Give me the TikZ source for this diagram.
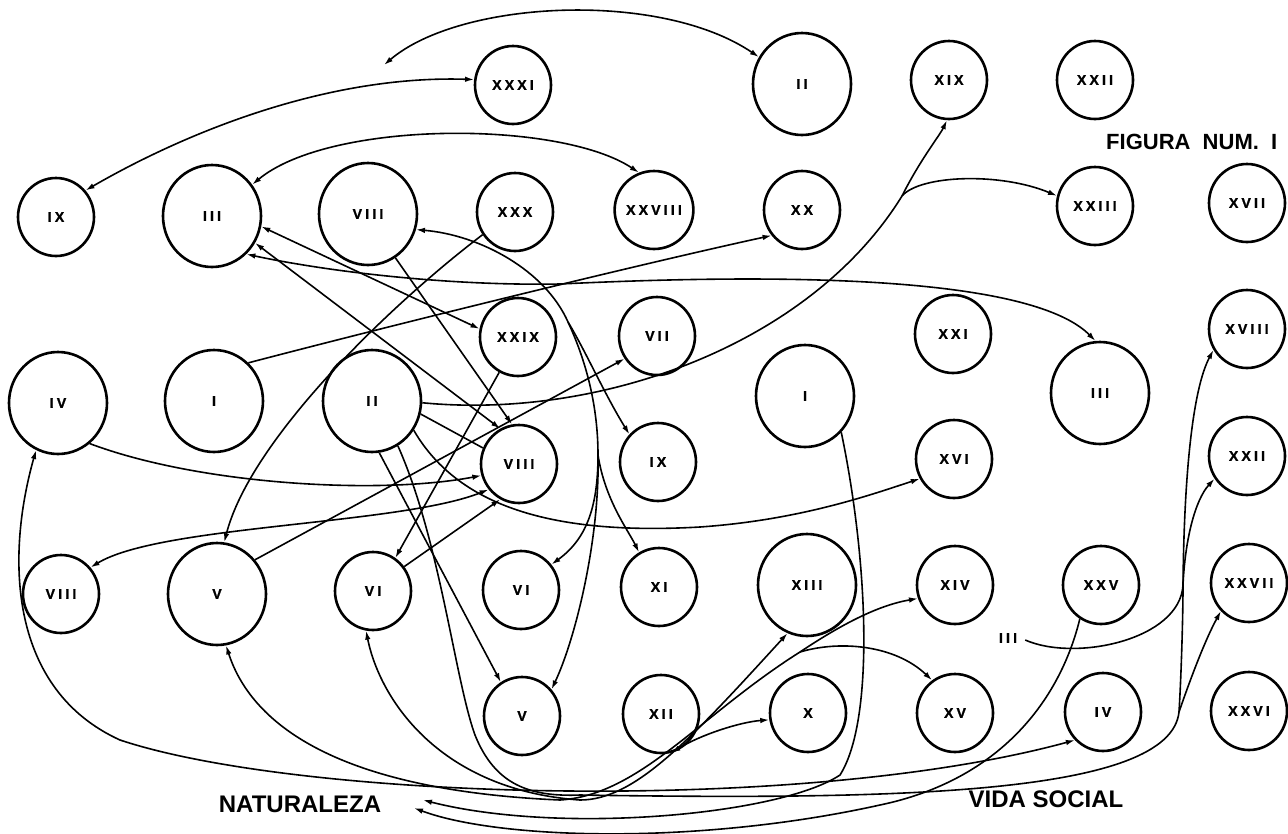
\documentclass[tikz,border=0pt]{standalone}
\usepackage{fontspec}
\setmainfont{Liberation Sans}
\newfontfamily\lblf[BoldFeatures={FakeBold=1.3}]{Liberation Sans}
\usetikzlibrary{arrows.meta,shapes.geometric}
\def\rn#1{\rnA#1\relax}
\def\rnA#1{\ifx#1\relax\else#1\expandafter\rnB\fi}
\def\rnB#1{\ifx#1\relax\else\kern3.2pt#1\expandafter\rnB\fi}
\begin{document}
\begin{tikzpicture}[x=1pt,y=-1pt,
 lbl/.style={font=\lblf\bfseries\fontsize{14}{14}\selectfont},
 sm/.style={draw,ellipse,line width=2.6pt,minimum width=76pt,minimum height=78pt,inner sep=0pt,lbl},
 bg/.style={draw,ellipse,line width=2.6pt,minimum width=98pt,minimum height=102pt,inner sep=0pt,lbl},
 cn/.style={line width=1.6pt},
 big/.style={font=\fontsize{24}{24}\selectfont\bfseries,inner sep=0pt},
 >={Latex[length=9pt,width=5.5pt]}]
\useasboundingbox (0,0) rectangle (1288,833);
% nodes
\node[sm] (XXXI) at (513,85) {\rn{XXXI}};
\node[bg] (IIa) at (802,84) {\rn{II}};
\node[sm] (XIXa) at (949,80) {\rn{XIX}};
\node[sm] (XXIIa) at (1095,80) {\rn{XXII}};
\node[sm] (IXa) at (56,217) {\rn{IX}};
\node[bg] (IIIa) at (212,216) {\rn{III}};
\node[bg] (VIIIa) at (368,214) {\rn{VIII}};
\node[sm] (XXX) at (515,212) {\rn{XXX}};
\node[sm] (XXVIII) at (654,210) {\rn{XXVIII}};
\node[sm] (XX) at (802,210) {\rn{XX}};
\node[sm] (XXIII) at (1095,206) {\rn{XXIII}};
\node[sm] (XVII) at (1247,203) {\rn{XVII}};
\node[sm] (XXIX) at (518,337) {\rn{XXIX}};
\node[sm] (VII) at (657,336) {\rn{VII}};
\node[sm] (XXI) at (953,334) {\rn{XXI}};
\node[sm] (XVIII) at (1247,329) {\rn{XVIII}};
\node[bg] (IVa) at (58,403) {\rn{IV}};
\node[bg] (Ia) at (214,401) {\rn{I}};
\node[bg] (IIb) at (372,401) {\rn{II}};
\node[bg] (Ib) at (805,396) {\rn{I}};
\node[bg] (IIIb) at (1100,393) {\rn{III}};
\node[sm] (VIIIb) at (519,464) {\rn{VIII}};
\node[sm] (IXb) at (658,462) {\rn{IX}};
\node[sm] (XVI) at (954,459) {\rn{XVI}};
\node[sm] (XXIIb) at (1247,456) {\rn{XXII}};
\node[sm] (VIIIc) at (61,594) {\rn{VIII}};
\node[bg] (Va) at (217,594) {\rn{V}};
\node[sm] (VIa) at (373,591) {\rn{VI}};
\node[sm] (VIb) at (521,590) {\rn{VI}};
\node[sm] (XI) at (659,587) {\rn{XI}};
\node[bg] (XIII) at (807,585) {\rn{XIII}};
\node[sm] (XIV) at (955,585) {\rn{XIV}};
\node[sm] (XXV) at (1101,585) {\rn{XXV}};
\node[sm] (XXVII) at (1249,583) {\rn{XXVII}};
\node[sm] (Vb) at (522,716) {\rn{V}};
\node[sm] (XII) at (661,714) {\rn{XII}};
\node[sm] (X) at (808,713) {\rn{X}};
\node[sm] (XV) at (955,713) {\rn{XV}};
\node[sm] (IVb) at (1103,712) {\rn{IV}};
\node[sm] (XXVI) at (1249,711) {\rn{XXVI}};
% texts
\node[big] (nat) at (300,804) {NATURALEZA};
\node[big] (vs) at (1046,799) {VIDA SOCIAL};
\node[font=\fontsize{22}{22}\selectfont\bfseries,anchor=west,inner sep=0pt] (fig) at (1106,142) {FIGURA\ \ NUM.\ \ I};
\node[lbl,inner sep=0pt] (t3) at (1008,638) {\rn{III}};
% coordinates
\coordinate (F1) at (384,65);
\coordinate (J1) at (568,322);
\coordinate (J2) at (598,455);
\coordinate (J3) at (902,196);
\coordinate (T0) at (1179,712);
\coordinate (T1) at (1183,585);
\coordinate (N1) at (423,800);
\coordinate (N2) at (414,808);
\coordinate (B1) at (800,652);
\coordinate (C1) at (560,800);
\coordinate (C2) at (580,800);
\coordinate (C3) at (580,795);
\coordinate (C4) at (475,735);
% top arcs
\draw[cn,<->] (F1) .. controls (460,0) and (660,-10) .. (IIa.148);
\draw[cn,<->] (XXXI.172) .. controls (330,75) and (190,130) .. (IXa.42);
\draw[cn,<->] (IIIa.38) .. controls (330,120) and (560,120) .. (XXVIII.112);
% III lines
\draw[cn,<->] (IIIa.-12) -- (XXIX.168);
\draw[cn,<->] (IIIa.-32) -- (VIIIb.118);
\draw[cn,->] (VIIIa.-58) -- (VIIIb.100);
\draw[cn,<->] (IIIa.-48) .. controls (330,272) and (450,286) .. (560,284) .. controls (850,270) and (1040,285) .. (IIIb.95);
\draw[cn,->] (Ia.48) .. controls (420,318) and (650,262) .. (XX.-140);
\draw[cn,->] (XXX.-145) .. controls (390,305) and (250,440) .. (Va.82);
% VIII trunk
\draw[cn,<-] (VIIIa.-18) .. controls (480,235) and (545,270) .. (J1);
\draw[cn,->] (J1) .. controls (585,350) and (605,395) .. (IXb.136);
\draw[cn] (J1) .. controls (588,365) and (598,410) .. (J2);
\draw[cn,->] (J2) .. controls (598,510) and (585,540) .. (VIb.40);
\draw[cn,->] (J2) .. controls (600,540) and (575,640) .. (Vb.42);
\draw[cn,->] (J2) .. controls (605,500) and (628,530) .. (XI.120);
\draw[cn,->] (XXIX.-118) -- (VIa.56);
\draw[cn,->] (IVa.-52) .. controls (200,485) and (380,495) .. (VIIIb.197);
\draw[cn,<->] (VIIIc.42) .. controls (160,525) and (400,525) .. (VIIIb.-140);
\draw[cn,->] (Va.42) -- (VII.-145);
\draw[cn,->] (VIa.38) -- (VIIIb.-118);
% II mid
\draw[cn] (IIb.-2) .. controls (600,420) and (810,345) .. (J3);
\draw[cn,->] (J3) .. controls (920,160) and (940,135) .. (XIXa.-93);
\draw[cn,->] (J3) .. controls (920,175) and (1000,172) .. (XXIII.165);
\draw[cn,->] (IIb.-35) .. controls (460,510) and (560,535) .. (700,527) .. controls (800,520) and (870,495) .. (XVI.-150);
\draw[cn] (IIb.-15) -- (VIIIb.156);
\draw[cn,->] (IIb.-82) -- (Vb.122);
% bottom
\draw[cn,<->] (IVa.-115) .. controls (5,560) and (10,690) .. (120,740) .. controls (300,800) and (800,815) .. (IVb.-135);
\draw[cn] (IIb.-60) .. controls (440,540) and (455,680) .. (C4) .. controls (495,785) and (530,797) .. (C3) .. controls (900,800) and (1170,795) .. (T0);
\draw[cn,->] (T0) .. controls (1190,680) and (1205,640) .. (XXVII.-135);
\draw[cn] (T0) .. controls (1181,680) and (1183,620) .. (T1);
\draw[cn,->] (T1) .. controls (1185,540) and (1195,500) .. (XXIIb.-145);
\draw[cn,->] (T1) .. controls (1184,480) and (1192,390) .. (XVIII.-148);
\draw[cn] (t3.east) ++(8,2) .. controls (1075,662) and (1180,640) .. (T1);
\draw[cn,->] (Ib.-45) .. controls (868,560) and (875,720) .. (840,775) .. controls (780,815) and (560,835) .. (N1);
\draw[cn,->] (XXV.-122) .. controls (1060,700) and (1000,780) .. (880,805) .. controls (700,845) and (500,840) .. (N2);
\draw[cn,<->] (Va.-80) .. controls (250,720) and (330,790) .. (C1) .. controls (640,795) and (700,715) .. (B1) .. controls (845,622) and (880,605) .. (XIV.-160);
\draw[cn,->] (B1) .. controls (840,640) and (895,645) .. (XV.125);
\draw[cn,<->] (VIa.-100) .. controls (380,700) and (440,790) .. (C2) .. controls (635,800) and (690,740) .. (XIII.-112);
\draw[cn,<->] (XII.-75) .. controls (700,735) and (740,722) .. (X.-170);
\end{tikzpicture}
\end{document}
